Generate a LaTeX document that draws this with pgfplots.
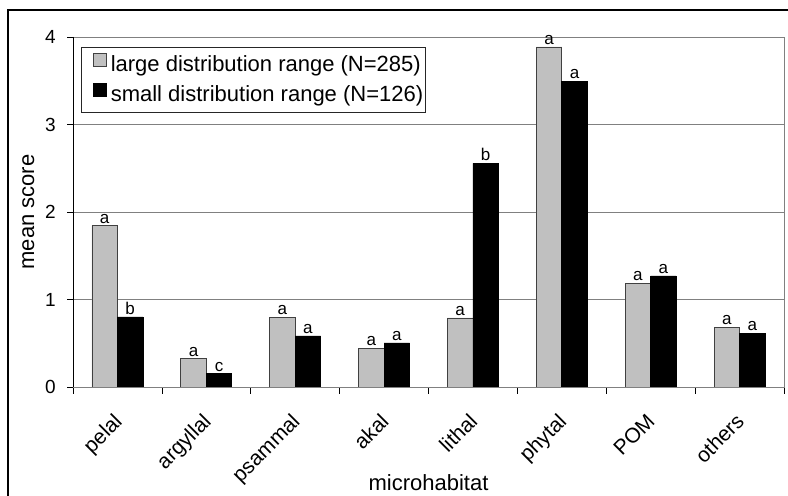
\documentclass[border=0pt]{standalone}
\usepackage{fontspec}
\setmainfont{Liberation Sans}
\usepackage{pgfplots}
\pgfplotsset{compat=1.18}
\definecolor{barGray}{HTML}{C0C0C0}
\definecolor{gridGray}{HTML}{808080}
% fixed-size faces for the chart texts
\font\xtfont="Liberation Sans" at 21bp
\font\ytfont="Liberation Sans" at 19bp
\font\lbfont="Liberation Sans" at 17bp
\font\axfont="Liberation Sans" at 22bp

\begin{document}
\begin{tikzpicture}[x=1bp,y=1bp]
\useasboundingbox (0,0) rectangle (788,496);
% outer chart frame
\draw[line width=1.5bp] (8,-5) -- (8,486) -- (793,486);
\begin{axis}[
  at={(73bp,109bp)}, anchor=south west,
  width=711bp, height=350bp, scale only axis,
  xmin=-0.5, xmax=7.5, ymin=0, ymax=4,
  ybar=0pt, bar width=25.5bp,
  xtick={0,...,7},
  xticklabels={pelal,argyllal,psammal,akal,lithal,phytal,POM,others},
  minor xtick={-0.5,0.5,...,7.5},
  ytick={0,...,4},
  yticklabels={0,1,2,3,4},
  tick pos=left, tick align=outside,
  major x tick style={draw=none},
  minor tick length=7bp, major tick length=6bp,
  tick style={black, line width=0.75bp},
  ymajorgrids, grid style={gridGray, line width=0.75bp},
  axis line style={gridGray, line width=0.75bp},
  yticklabel style={font=\ytfont, anchor=east, inner sep=0pt, xshift=-11bp},
  xticklabel style={font=\xtfont, xshift=-5bp, yshift=-19bp, rotate=45, anchor=north east, inner sep=0pt},
  ylabel={mean score}, xlabel={microhabitat},
  label style={font=\axfont},
  ylabel style={at={(axis description cs:-0.063,0.5)}, anchor=center},
  xlabel style={at={(axis description cs:0.5,-0.274)}, anchor=center},
  point meta=explicit symbolic,
  nodes near coords,
  nodes near coords style={font=\lbfont, inner sep=2bp, anchor=south, black},
  legend style={at={(axis description cs:0.0108,0.9723)}, anchor=north west,
    draw=black!85, line width=0.75bp, font=\axfont,
    inner xsep=0pt, inner ysep=6bp, row sep=6.5bp,
    nodes={inner xsep=2bp, inner ysep=0pt, text height=16bp, text depth=5bp}},
  legend cell align=left,
  legend image code/.code={
    \path (0bp,0bp) (27bp,0bp);
    \draw[#1, line width=0.75bp] (12bp,-0.5bp) rectangle (25bp,12.5bp);},
]
\addplot[fill=barGray, draw=black!75, line width=0.75bp] coordinates {
  (0,1.843) [a] (1,0.323) [a] (2,0.797) [a] (3,0.442) [a]
  (4,0.789) [a] (5,3.886) [a] (6,1.185) [a] (7,0.682) [a]
};
\addplot[fill=black, draw=black, line width=0.75bp] coordinates {
  (0,0.800) [b] (1,0.152) [c] (2,0.583) [a] (3,0.503) [a]
  (4,2.556) [b] (5,3.494) [a] (6,1.269) [a] (7,0.617) [a]
};
\legend{large distribution range (N=285), small distribution range (N=126)}
% left and bottom axis lines in black
\draw[black, line width=0.75bp] (rel axis cs:0,1) -- (rel axis cs:0,0) -- (rel axis cs:1,0);
\end{axis}
\end{tikzpicture}
\end{document}
